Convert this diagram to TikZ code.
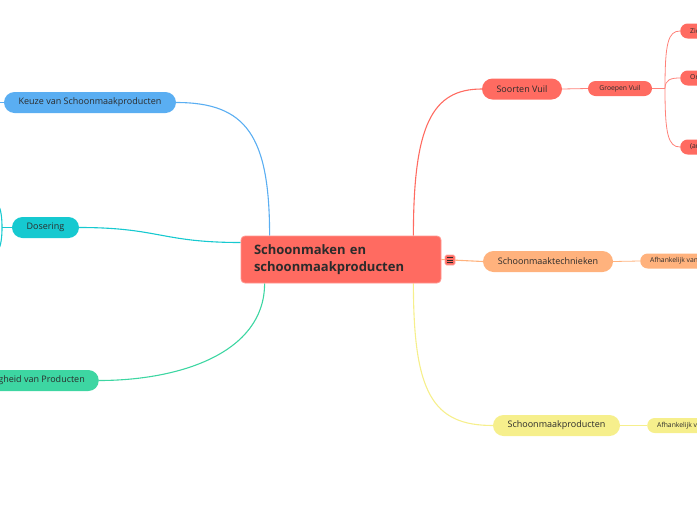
\documentclass[tikz,border=0pt]{standalone}
\usepackage{fontspec}
\setmainfont{Open Sans}
\usepackage{tikz}
\usetikzlibrary{positioning, calc}

\definecolor{vuilred}{HTML}{FF6B61}
\definecolor{techpeach}{HTML}{FFB27D}
\definecolor{prodyellow}{HTML}{F6EF8C}
\definecolor{keuzeblue}{HTML}{5AAEF2}
\definecolor{dosecyan}{HTML}{16C9D0}
\definecolor{veilgreen}{HTML}{3DD6A2}
\definecolor{txtdark}{HTML}{2B2B2B}

\pgfdeclarelayer{background}
\pgfsetlayers{background,main}

\tikzset{
  topic/.style={rectangle, rounded corners=4pt, fill=vuilred, draw=vuilred!70!white,
    line width=0.8pt, minimum width=200pt, minimum height=47pt, text width=174pt,
    align=left, inner xsep=13pt, font=\fontsize{13}{17}\selectfont\bfseries, text=txtdark},
  pill/.style={rectangle, rounded corners=10.5pt, minimum height=21pt, inner xsep=14pt,
    inner ysep=0pt, font=\fontsize{9}{11}\selectfont, text=txtdark},
  subpill/.style={rectangle, rounded corners=7.5pt, minimum height=15pt, inner xsep=10pt,
    inner ysep=0pt, font=\fontsize{6.8}{8}\selectfont, text=txtdark},
  link/.style={line width=1.1pt},
  sublink/.style={line width=0.8pt},
}

\begin{document}
\begin{tikzpicture}[x=1pt, y=-1pt]
\useasboundingbox (0,0) rectangle (697,520);
\clip (0,0) rectangle (697,520);

% central topic
\node[topic] (main) at (341,259.5) {Schoonmaken en\\schoonmaakproducten};
\coordinate (mtl) at ($(main.north west)+(29,0)$);
\coordinate (mbl) at ($(main.south west)+(24,0)$);
\coordinate (mtr) at ($(main.north east)+(-28,0)$);
\coordinate (mbr) at ($(main.south east)+(-28,0)$);
\coordinate (ml) at ($(main.west)+(0,-17)$);

% right side
\node[pill, fill=vuilred, minimum width=80pt] (vuil) at (522,89) {Soorten Vuil};
\node[subpill, fill=vuilred, minimum width=64pt] (groep) at (620,88.5) {Groepen Vuil};
\coordinate (gj) at (665,88.5);
\node[subpill, fill=vuilred, anchor=west] (zi) at (680,31) {Zichtbaar vuil};
\node[subpill, fill=vuilred, anchor=west] (or) at (680,78) {Organisch vuil};
\node[subpill, fill=vuilred, anchor=west] (an) at (680,147) {(an)organisch vuil};

\node[pill, fill=techpeach, minimum width=130pt] (tech) at (548,261.5) {Schoonmaaktechnieken};
\node[subpill, fill=techpeach, anchor=west] (tafh) at (640,261) {Afhankelijk van soort vuil};

\node[pill, fill=prodyellow, minimum width=127pt] (prod) at (556.5,425.5) {Schoonmaakproducten};
\node[subpill, fill=prodyellow, anchor=west] (pafh) at (647,425.5) {Afhankelijk van soort vuil};

% left side
\node[pill, fill=keuzeblue, minimum width=172pt] (keuze) at (90,102.5) {Keuze van Schoonmaakproducten};
\coordinate (kout) at (-20,102.5);
\node[pill, fill=dosecyan, minimum width=67pt] (dose) at (45.5,227.5) {Dosering};
\coordinate (dj) at (2,227.5);
\coordinate (dup) at (-14,198);
\coordinate (ddown) at (-14,257);
\node[pill, fill=veilgreen, anchor=east] (veilig) at (99,380.5) {Veiligheid van Producten};

% note icon
\node[rectangle, fill=vuilred, draw=vuilred!60!white, line width=0.6pt, rounded corners=1.5pt,
  minimum size=10pt, inner sep=0pt] (note) at (450,260) {};
\foreach \dy in {-2.2,0,2.2}
  \draw[line width=0.7pt, txtdark] ($(note.center)+(-2.8,\dy)$) -- ($(note.center)+(2.8,\dy)$);

% connectors
\begin{pgfonlayer}{background}
\draw[link, vuilred] (mtr) .. controls +(0,-110) and +(-50,0) .. (vuil.west);
\draw[sublink, vuilred!85!white] (vuil.east) -- (groep.west);
\draw[sublink, vuilred!85!white] (groep.east) -- (gj);
\draw[sublink, vuilred!85!white] (gj) .. controls +(0,-45) and +(-12,0) .. (zi.west);
\draw[sublink, vuilred!85!white] (gj) .. controls +(0,-9) and +(-9,0) .. (or.west);
\draw[sublink, vuilred!85!white] (gj) .. controls +(0,45) and +(-12,0) .. (an.west);
\draw[link, techpeach] (main.east) -- (tech.west);
\draw[sublink, techpeach] (tech.east) -- (tafh.west);
\draw[link, prodyellow] (mbr) .. controls +(0,110) and +(-60,0) .. (prod.west);
\draw[sublink, prodyellow] (prod.east) -- (pafh.west);
\draw[link, keuzeblue] (mtl) .. controls +(0,-100) and +(70,0) .. (keuze.east);
\draw[link, keuzeblue] (keuze.west) -- (kout);
\draw[link, dosecyan] (ml) .. controls +(-80,0) and +(80,0) .. (dose.east);
\draw[link, dosecyan] (dose.west) -- (dj);
\draw[link, dosecyan] (dj) .. controls +(0,-20) and +(12,0) .. (dup);
\draw[link, dosecyan] (dj) .. controls +(0,20) and +(12,0) .. (ddown);
\draw[link, veilgreen] (mbl) .. controls +(0,70) and +(80,0) .. (veilig.east);
\end{pgfonlayer}
\end{tikzpicture}
\end{document}
